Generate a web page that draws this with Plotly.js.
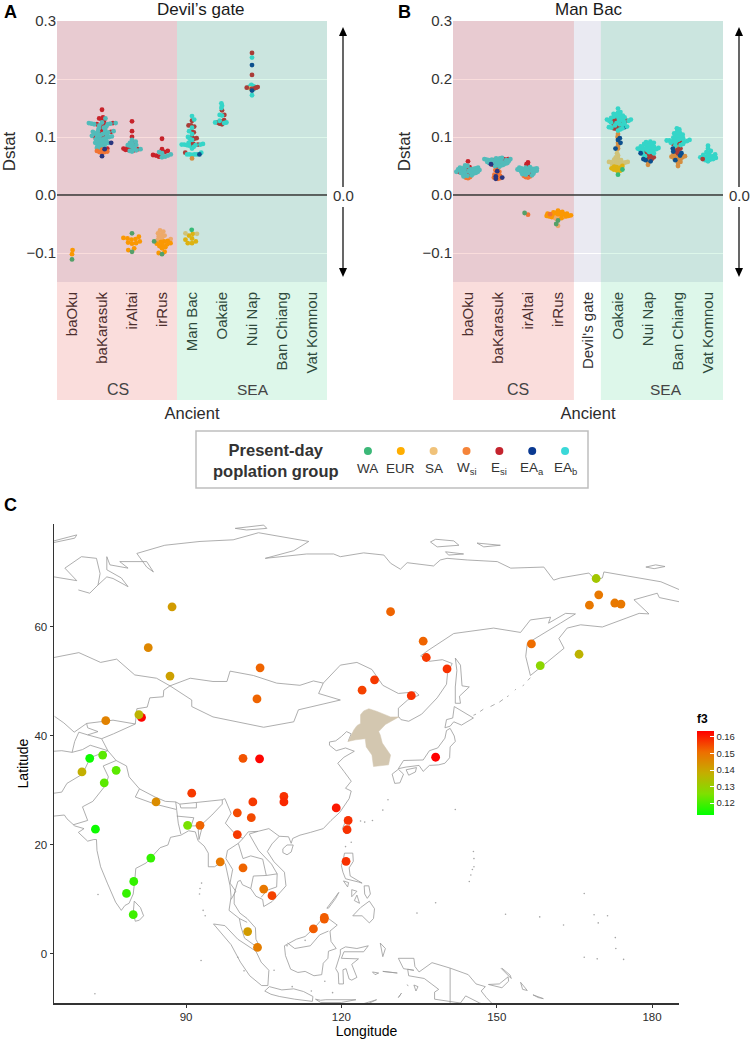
<!DOCTYPE html>
<html><head><meta charset="utf-8">
<script src="https://cdn.plot.ly/plotly-3.0.1.min.js"></script>
<style>html,body{margin:0;padding:0;background:#fff}</style></head>
<body><div id="chart" style="width:752px;height:1040px"></div>
<script>
// ---------- Panel tick labels ----------
const catsA = ["baOku","baKarasuk","irAltai","irRus","Man Bac","Oakaie","Nui Nap","Ban Chiang","Vat Komnou"];
const catsB = ["baOku","baKarasuk","irAltai","irRus","Devil's gate","Oakaie","Nui Nap","Ban Chiang","Vat Komnou"];
const groupKeys = ["WA","EUR","SA","Ws","Es","Ea","Eb"];
const groupLabels = ["WA","EUR","SA","W<sub>si</sub>","E<sub>si</sub>","EA<sub>a</sub>","EA<sub>b</sub>"];
const groupColors = ["#3CB878","#FFAE00","#F0C27A","#F58439","#C4242E","#0A3A92","#3AD8D8"];
// widest spread of each swarm, in pixels either side of its category
const spreadA = [1,14,10,9,11,7,7,0,0];
const spreadB = [12,14,13,13,0,13,12,12,8];

// ---------- Panel A: Dstat values read per ancient group, per present-day group ----------
const A_baOku = [["EUR",[-.095,-.102]],["WA",[-.111]]];
const A_baKarasuk = [
 ["Es",[.147,.134,.132,.13,.128,.124,.122,.122,.12,.114,.11,.109,.108,.102,.101,.1,.08]],
 ["Eb",[.132,.125,.124,.124,.123,.123,.122,.122,.12,.118,.116,.115,.112,.11,.11,.109,.108,.107,.106,.105,.105,.104,.103,.102,.101,.1,.1,.099,.098,.097,.096,.095,.094,.093,.092,.091,.09,.09,.089,.088,.087,.086,.085,.083,.081,.079]],
 ["Ws",[.078,.076,.075,.074,.074,.073]],
 ["Ea",[.09,.079,.067]]];
const A_irAltai = [
 ["Es",[.127,.11,.1,.091,.085,.082,.08,.08,.079,.079,.078,.078,.077]],
 ["Eb",[.095,.092,.09,.088,.086,.086,.085,.083,.081,.079,.077,.076,.075]],
 ["EUR",[-.072,-.074,-.075,-.076,-.077,-.08,-.082,-.083,-.084,-.092,-.095]],
 ["WA",[-.066,-.098]]];
const A_irRus = [
 ["Es",[.097,.079,.076,.074,.069,.068,.066]],
 ["Eb",[.074,.072,.07,.068,.066,.065]],
 ["SA",[-.061,-.063,-.066,-.068,-.07,-.072,-.074,-.076,-.078]],
 ["EUR",[-.079,-.08,-.081,-.083,-.084,-.085,-.086,-.088,-.09,-.092,-.098,-.1]],
 ["WA",[-.08,-.102]]];
const A_ManBac = [
 ["Es",[.128,.12,.12,.118,.11,.108,.1,.098,.097,.09,.088,.087,.085,.073]],
 ["Eb",[.136,.13,.116,.11,.105,.1,.097,.095,.09,.088,.087,.087,.087,.086,.086,.085,.083,.08,.073,.07,.07,.07,.07,.069]],
 ["Ea",[.07]],["Ws",[.063]],
 ["EUR",[-.083,-.083,-.08,-.077,-.075,-.07,-.067]],["SA",[-.067,-.066]],["WA",[-.06]]];
const A_Oakaie = [
 ["Es",[.146,.138,.129,.127,.125,.123,.122]],
 ["Eb",[.158,.154,.15,.138,.137,.128,.125,.125,.124]]];
const A_NuiNap = [
 ["Eb",[.237,.19,.188,.187,.187,.186,.185,.185,.182,.172]],
 ["SA",[.184]],
 ["Es",[.245,.207,.186,.185,.185,.184,.183]],
 ["Ea",[.224,.18]]];
const A_BanChiang = [];
const A_VatKomnou = [];

// ---------- Panel B ----------
const B_baOku = [
 ["Ws",[.03,.029,.031]],
 ["Es",[.058,.048,.045,.042,.04,.038,.036]],
 ["Eb",[.047,.047,.046,.046,.045,.045,.044,.044,.043,.043,.042,.042,.041,.041,.04,.04,.039,.039,.038,.038,.037,.036,.035,.034,.033,.032,.05,.051]]];
const B_baKarasuk = [
 ["Ws",[.046,.043,.04,.037,.035,.033,.032,.03,.029,.028]],
 ["Es",[.062,.062,.061,.06,.06,.058,.056,.055,.052,.05]],
 ["Eb",[.064,.063,.063,.062,.062,.061,.061,.06,.06,.059,.059,.058,.058,.057,.057,.056,.056,.055,.055,.054,.054,.053,.052,.051,.05,.049]],
 ["Ea",[.053,.041,.032,.03,.028]]];
const B_irAltai = [
 ["Ws",[.034,.033,.032,.031,.03]],
 ["Es",[.056,.053,.05,.046,.044,.04,.036]],
 ["Eb",[.048,.047,.047,.046,.046,.045,.045,.044,.044,.043,.043,.042,.042,.041,.041,.04,.04,.039,.038,.037,.036,.035,.034]],
 ["Ws",[-.034]],["WA",[-.031]]];
const B_irRus = [
 ["SA",[-.035,-.036,-.037,-.038,-.039,-.04,-.041,-.053]],
 ["EUR",[-.027,-.029,-.03,-.03,-.031,-.032,-.032,-.033,-.033,-.034,-.034,-.035,-.036,-.036,-.037,-.037,-.038,-.04]],
 ["Ws",[-.033]],["WA",[-.044,-.05]]];
const B_Oakaie = [
 ["SA",[.072,.068,.065,.063,.061,.06,.059,.058,.057,.057,.056,.056,.055,.055,.054,.054,.052,.05]],
 ["EUR",[.05,.049,.048,.047,.046,.045,.044,.043,.042,.04]],["WA",[.044,.035]],
 ["Ws",[.105,.1,.09,.085,.08]],
 ["Es",[.133,.13,.129,.128,.127,.125,.123,.12,.118,.116,.115,.114]],
 ["Ea",[.117,.098,.095,.09,.08]],
 ["Eb",[.149,.143,.142,.14,.139,.138,.137,.136,.135,.134,.134,.133,.132,.131,.13,.13,.129,.128,.128,.127,.126,.125,.124,.123,.122,.121,.12,.118,.117,.116,.115,.113,.111]]];
const B_NuiNap = [
 ["Ws",[.062,.058,.052]],
 ["Es",[.075,.072,.07,.068,.066,.065,.064,.062]],
 ["Eb",[.092,.091,.09,.089,.088,.087,.086,.085,.084,.083,.082,.082,.081,.081,.08,.08,.079,.079,.078,.078,.077,.076,.075,.074,.072,.07,.067]],
 ["Ea",[.072,.062,.06,.058]]];
const B_BanChiang = [
 ["Ws",[.085,.08,.07,.068,.067,.066,.065,.065,.064,.062,.06,.057,.055,.05]],
 ["Es",[.092,.09,.088,.08,.078,.075,.072]],
 ["Eb",[.115,.113,.11,.108,.106,.105,.104,.103,.102,.1,.099,.098,.097,.096,.095,.095,.094,.094,.093,.093,.092,.091,.09,.088,.086,.085]],
 ["Ea",[.08,.075,.072,.068,.06]]];
const B_VatKomnou = [
 ["Eb",[.085,.08,.076,.074,.072,.07,.069,.068,.067,.066,.065,.065,.064,.063,.062,.061,.06,.058]],
 ["Es",[.062]]];

// ---------- Panel C: sampling sites ----------
const siteLon = [87.3,82.7,86.9,104.3,103.7,124,126.4,74.5,81.4,80.9,71.4,73.9,69.9,76.5,101,104.2,74.2,91.1,84.2,99.9,102.9,102.6,108.9,108.9,119,121.3,121.1,120.9,72.5,90.3,92.7,99.9,83.2,96.6,101,79.9,78.5,79.8,105,106.6,101.9,103.8,114.6,116.7,116.7,129.5,135.8,136.4,140.4,133.5,138.2,156.7,158.4,165.9,169.2,169.7,167.9,172.8,174];
const siteLat = [63.7,56.2,51,52.5,46.8,48.4,50.3,42.8,43.4,43.9,35.9,36.5,33.4,33.7,35.9,35.8,31.4,29.5,27.9,25.9,27.9,25,28.9,27.9,26.8,24.5,22.8,17,22.9,23.6,23.6,21.9,17.6,16.9,15.8,13.3,11.1,7.2,11.9,10.7,4.1,1.2,4.6,6.7,6.4,62.8,57.4,54.4,52.3,47.4,36.1,56.9,52.9,55,68.9,65.9,64,64.4,64.2];
const siteF3 = [.142,.146,.141,.152,.152,.156,.157,.147,.163,.137,.114,.122,.138,.122,.154,.163,.122,.157,.145,.155,.157,.155,.158,.159,.161,.158,.158,.158,.114,.125,.152,.157,.118,.149,.152,.118,.118,.119,.149,.156,.142,.148,.153,.153,.153,.152,.152,.157,.158,.158,.164,.151,.128,.137,.132,.149,.149,.149,.149];

// ---------- Panel C: map outlines as lon,lat pairs ----------
const koreaArea = [125.3,45,126.9,44.5,129.5,43.5,131.1,43.5,128.5,42.1,127.2,40.8,127.5,40.2,127.9,38.7,129.5,36.5,129.1,34.7,126.2,34.4,125.9,36.5,124.8,38,124.6,39.5,122.8,39.3,121.3,39,122.4,41.1,123,41.9,123.7,42.3,123.7,43.9,124.3,44.6,125.3,45];
const coastChinaIndia = [121.3,39,121.9,40.4,121,40.8,120,39.9,118.9,39.1,117.7,38.9,117.7,38.3,118.9,37.5,119,37.3,120.8,37.8,122.5,37.2,120.5,36.1,119.3,35,120.5,33.5,121.9,31.7,120.8,30.4,121.9,29.9,121.5,28.5,119.7,26,118,24.5,116.5,23,114,22.3,112,21.8,110.6,21.2,110.3,20.3,109.8,21.5,108,21.6,106.6,20.2,105.7,18.8,107,16.9,109,15,109.3,12.5,107.2,10.4,106.6,9.6,105,8.7,104.8,10,103.5,10.6,102.5,12,100.9,12.7,100.5,13.5,100,13.3,99.3,11,99.3,9.2,100.4,7.5,101.8,6.5,103.4,4.8,103.5,2.7,104.2,1.4,103.5,1.4,101.3,2.9,100.6,5,100.3,6.5,98.3,8,98.7,10.5,98.5,12.5,97.6,16.5,97.1,17,95.5,16,94.3,16,94.3,18.5,93.5,19.8,92.3,20.8,91.8,22.4,90.5,22.6,89,21.8,87,21.4,86.5,20,85,19.5,82.3,16.7,80.3,15.7,80.1,13.5,79.8,11,79,9.3,78.2,8.9,77.5,8,76.4,9.5,74.8,13,73.5,16,72.8,19,72.7,21,72.2,21,71,20.7,69.2,22.3,70.3,23,68.5,23.5,67,24.8,66.5,25.5,64.5,25.3];
const coastRussiaPacific = [131.1,43.5,131.5,43,133,42.7,135.5,44,138.5,47,140.3,49.5,140.5,51.5,141.4,53.3,139.5,54,138.5,53.9,137,53.7,135.3,54.7,136.9,55.8,141.7,58.8,149.4,59.8,154.6,59,156.5,61.3,160.4,61.8,160,60.7,163.3,62.5,165.2,62.4,162.3,60.7,158.5,58.5,155.9,57,155.6,54.6,156.5,51.1,159.8,53.6,163,56.1,162,57.9,163.6,59.8,166.2,60.4,170.4,60,177.5,62.5,179.4,62.4,176.5,65,181,66.2,181.4,65.4,185.4,64.6];
const coastArcticWest = [64.5,69.2,68.9,68.5,66.6,70.8,69.8,72.9,72.7,72.6,73.4,69.8,73,67.7,71.4,66.2,69.2,66.8];
const coastArcticGydan = [73,67.7,74.7,69.2,75.9,68.9,78.8,67.4,77.5,69,74.7,70.5,74.7,72.9,75.3,71.4,78.8,70.8,77.2,72,82.4,72,83.7,70.1,82.4,71,80.5,73.5,85.9,75,92.7,75.7,99.1,76,104,77.3,113.7,75.7,110.8,74,105.3,72.6,113.3,73.4,118.5,73.4,119.8,72.9,124.3,73.6,128.2,73.2,129.5,71.7,131.4,70.6,132.7,71.8,137.8,71.2,139.1,72.3,140.4,72.6,144.3,72.3,150.1,72,152.7,70.8,159.1,71,161,68.6,162.3,69,167.8,69.9,169.1,68.6,170.4,69,170.7,70.1,181.7,68.3,185.4,66.8];
const islandNovaya = [64.5,75.8,68.9,76.9,68.5,76.3,64.5,75.5];
const islandSeverny = [99.5,78.1,105,78.7,105.6,78.1,101.7,77.8,99.5,78.1];
const islandKotelny = [137.2,75.6,138.2,76.1,141.7,75.8,142.7,75,138.5,74.7,137.2,75.6];
const islandLiakhov = [140.1,73.8,143.6,73.4,140.7,73.2,140.1,73.8];
const islandNewSib = [146.2,75.4,150.7,75,147.5,74.7,146.2,75.4];
const islandWrangel = [178.8,71,180.7,71.4,182.5,71.1,180.4,70.7,178.8,71];
const islandSakhalin = [142,54.3,143,53,143.3,49.2,144.7,49,142.8,47.3,143,46,142,46,142,49,142.3,52,142,54.3];
const islandHokkaido = [140,41.5,141,41.8,141.7,42.6,143.2,42,145.5,43.3,144.3,44,141.8,45.4,141.5,43.3,140.3,43,140,41.5];
const islandHonshu = [141,41.4,141.8,40,142,39,141,38,140.9,36,140,35,138.8,34.7,137,34.6,135.8,33.5,135,34.6,132.5,34.3,131,34,132,35.5,135.8,35.6,137,37.3,138.6,37.8,140,39.6,140.3,41,141,41.4];
const islandKyushu = [131,33.9,132,33,131.3,31.4,130.3,31.3,129.8,33,131,33.9];
const islandShikoku = [132.5,33.8,134.5,34.2,134.3,33.4,133,32.8,132.5,33.8];
const islandSriLanka = [80,9.7,81.2,8.5,81.8,7,81,6.2,80.2,6,79.8,7.5,80,9.7];
const islandHainan = [108.7,19.3,109.5,20,110.7,20,110.3,18.7,109.5,18.2,108.7,18.6,108.7,19.3];
const islandTaiwan = [121.5,25.2,122,24.8,120.9,22,120.2,23,120.9,24.5,121.5,25.2];
const islandLuzon = [120.6,18.5,122.2,18.5,122.3,17,121.5,15.8,121.7,14.3,124,13,123.3,13.2,120.8,13.8,120.3,15,120,16.2,120.4,17.5,120.6,18.5];
const islandSamar = [125.3,12.5,125.6,11,125,10.2,124.5,11,124.4,12.5,125.3,12.5];
const islandMindanao = [123.7,8.5,125.4,9.7,126.4,8.3,126.2,6.5,125.4,5.7,124,7,122.2,7,123.7,8.5];
const islandPanay = [122,11.8,123,11.5,122,10.5,122,11.8];
const islandNegros = [123,10.8,123.5,9.3,122.5,9.8,123,10.8];
const islandPalawan = [117.2,8.4,119.5,11.3,118.9,10.2,117.5,8.4,117.2,8.4];
const islandMindoro = [120.4,13.4,121.4,13.1,121.2,12.3,120.4,13.4];
const islandBorneo = [109,1.5,111.3,2.7,113,3.2,115,5,116.8,7,117.6,6.4,119.2,5.3,117.8,4.2,118,2.3,119,1,117.5,.5,117.4,-.8,116.5,-1.7,116.2,-3.8,114.7,-4,113,-3.2,111.6,-3.4,110.2,-2.8,109.2,-.3,109,1.5];
const islandSumatra = [95.3,5.5,97.5,5.2,100,2.7,103.5,.5,104.5,-1.5,106,-3,105.8,-5.8,104.6,-5.8,102.3,-4,100.5,-1.5,98.7,1.7,97,3.5,95.3,5.5];
const islandJava = [105.2,-6.8,106.1,-6,108.5,-6.6,110.8,-6.4,112.7,-6.9,114.5,-7.8,114.4,-8.7,111,-8.3,108,-7.8,106.4,-7.4,105.2,-6.8];
const islandSunda = [115,-8.3,116,-8.5,117,-8.4,119,-8.4,122.8,-8.4,120,-8.9,116,-8.9,115,-8.3];
const islandSulawesi = [119.8,.8,120.8,1.3,123,1,125.2,1.5,124.3,.4,120.5,.4,120,-.8,121.4,-.9,123.3,-.9,122,-1.9,122.5,-3.2,123,-4.3,122,-4.8,121.5,-4.6,120.9,-2.7,120.3,-2.9,120.4,-5.5,119.5,-5.5,119.4,-3.5,118.9,-2.7,119.8,0,119.8,.8];
const islandHalmahera = [127.5,2,128.5,1,128,-.5,127.7,.8,127.5,2];
const islandSeram = [128,-3.2,130.8,-3.5,129,-3.4,128,-3.2];
const islandBuru = [126,-3.3,127.2,-3.5,126.5,-3.8,126,-3.3];
const islandTimor = [124,-9.2,126.8,-8.4,125,-9.2];
const islandTanimbar = [131.6,-7.2,131,-8,131.3,-7.6,131.6,-7.2];
const islandAru = [134,-5.7,134.8,-6,134.4,-6.8,134,-5.7];
const islandKai = [132.7,-5.6,132.9,-5.9];
const islandGuinea = [131,-.8,134,-.8,134.2,-2.3,135,-3.3,137.5,-1.6,141,-2.6,144.5,-3.8,146,-5.5,147.8,-6,147,-6.8,148,-8,150,-10,146.7,-9,144,-7.7,143,-9,138,-8.3,138,-7,138.8,-6.5,136,-4.5,133,-4,132.8,-2.8,134,-3,132,-2.7,131,-.8];
const islandNewBritain = [148.4,-5.6,150.5,-5.5,152.2,-4.2,152.3,-5,151,-6.2,148.4,-5.6];
const islandNewIreland = [150.8,-2.6,152.8,-4.5,152.6,-3.9,151,-2.6];
const islandBougainville = [154.6,-5.2,155.9,-6.7,155,-6.5,154.6,-5.2];
const islandSolomon = [157,-7.5,159,-8.2,158,-8,157,-7.5];
const borderKazRussia = [64.5,54.4,69.3,55.3,73.5,53.5,76.6,54.1,80.1,51.2,84.3,50.6,86.9,49.2];
const borderRussiaMongolia = [86.9,49.2,90.8,50.6,95.2,50,97.9,50,98.5,51.9,103,51.1,107.5,49.7,112,49.3,114.6,50.1,116.5,49.7];
const borderMongoliaChina = [86.9,49.2,91.1,46.6,91.1,45.4,95.2,43.5,105,41.6,110.8,42.6,111.7,44.8,119.8,46.6,115.6,47.8,116.5,49.7];
const borderAmur = [116.5,49.7,119.8,53,123,53.5,125.9,52.2,128,49.3,131,47.8,134.3,48.1,135,47.5,132.8,46.6,131,45.1,131,43.5,131.1,43.5];
const borderKazChina = [80.2,42.2,80.5,45,82.5,45.3,83,47,85.6,47.2,85.7,48.4,86.9,49.2];
const borderKyrgyzChina = [73.7,39.5,76,40.4,80.2,42.2];
const borderKazSouth = [64.6,43.6,66.4,42.4,68.4,40.7,70.8,42.3,75.9,42.9,80.2,42.2];
const borderKyrgyzSouth = [70.8,42.3,71,41.5,73,40.8,71,40.2,73.7,39.5];
const borderTajik = [68,37,68.5,39,69.3,40.7,71,40.2];
const borderAfghan = [64.5,37.2,66,37.3,68,37,70,37.5,71.5,38.3,74.9,37.3,73.7,39.5];
const borderPakAfghan = [64.5,29.5,66,29.7,67,31.3,70,33,71.5,36,74.9,37.3];
const borderIndiaPak = [68.2,23.7,71,24.5,70,27,72,28,74.5,31,75,32.5,74,34.5,76.5,35.5,74.9,37.3];
const borderHimalaya = [76.5,35.5,78.5,34.5,79,32.5,81,30.3,84,28.8,86,28,88,27.9,88.8,27.5,92,27.8,97,28.3,97.5,28.5,98.7,25.8,97.6,24,99.5,22,101,21.2,102,22.4,103.9,22.5,106,23,108,21.6];
const borderNepal = [81,30.3,80.2,28.8,84,27.5,88.2,26.5,88,27.9];
const borderBhutan = [88.8,27.5,89,26.8,92,26.8,92,27.8];
const borderBangla = [88.2,26.4,88.5,24,89,22];
const borderBangla2 = [92.5,21,92.3,23.5,91,23.5,91.5,25,88.2,25.3];
const borderIndiaMyanmar = [92.5,21,93.3,24,95,25.5,97,27.5,97,28.3];
const borderThaiMyanmar = [101,21.2,100.1,20.3,98,19,97.7,17.5,99,15.5,98.5,13,99.6,11.5,98.7,10];
const borderLaosThai = [100.1,20.3,101,17.5,102.5,18,104.8,17.4,105.5,14.4,103,14.3,102.5,12];
const borderLaosVietnam = [103.9,22.5,102.2,22,104,19,106.5,16.5,107.6,14.7,105.5,14.4];
const borderCambodiaVietnam = [107.6,14.7,107.5,12.3,105.7,11.7,104.5,10.4];
const borderMalayThai = [100.3,6.5,101.8,5.8];
const borderBorneo = [109.6,2,111,1,114,1.5,115.8,3.5,117.5,4.2];
const borderGuinea = [141,-2.6,141,-10];
const kurilDashes = [[145.5,43.8,146,44],[146.8,44.5,147.4,44.9],[148.8,45.4,149.6,45.8],[150.5,46.2,151.2,46.7],[152,47.2,152.3,47.4],[153.5,48.4,153.7,48.6],[155,49.2,155.3,49.4],[156,50.2,156.5,50.7]];
const dotLon = [145.5,145.6,145.6,145.3,145,144.7,128,129,93,92.7,92.6,93.3,93.7,73,72.4,151.7,158.3,162.9,166.9,168.8,171.4,169.6,172.9,173,174.5,166.9,169.4,138.2,134.6,142,126,124.5,123.7,121.9,120.8,100,92.9,109.5,113,114.2,118.3,116.8,101.2,107,110.5];
const dotLat = [18.8,17.5,16,15.5,14.5,13.3,26.4,28.3,13,12,11,8,7,10.9,-7.3,7.3,6.8,5.3,11.1,7.2,7,5.7,3,1,-1,-.6,-.9,9.4,7.5,26.5,24.5,24.2,24.4,20.5,19.7,-.6,-1.2,1.5,2.5,-6.8,-7.1,-5,-3.1,-3,-6];

// ---------- f3 colour ramp and axis ticks ----------
const f3Ramp = [[0,"#00FF00"],[.25,"#7EE000"],[.5,"#C4AE00"],[.75,"#EE6E00"],[1,"#FF0000"]];
const f3Ticks = [.12,.13,.14,.15,.16];
const dstatTicks = [-.1,0,.1,.2,.3];
const lonTicks = [90,120,150,180];
const latTicks = [0,20,40,60];

// ---------- page geometry helpers ----------
const W=752,H=1040, px=x=>x/W, py=y=>1-y/H;
const colorOf = Object.fromEntries(groupKeys.map((k,i)=>[k,groupColors[i]]));
const FONT = '"Liberation Sans", Arial, sans-serif';
const dark='#2b2b2b';

function swarm(vals, d){ // beeswarm spread in pixels, value scale 580 px per unit
  const order = vals.map((v,i)=>i).sort((a,b)=>vals[a]-vals[b]);
  const placed=[], out=new Array(vals.length);
  let side=1;
  order.forEach(i=>{
    const y=vals[i]*580, near=placed.filter(p=>Math.abs(p.y-y)<d);
    let cands=[0];
    near.forEach(p=>{const s=Math.sqrt(d*d-(p.y-y)*(p.y-y)); cands.push(p.x+s,p.x-s);});
    cands=cands.filter(c=>near.every(p=>(p.x-c)*(p.x-c)+(p.y-y)*(p.y-y)>=d*d-1e-6));
    cands.sort((a,b)=>(Math.abs(a)-Math.abs(b))||((b-a)*side));
    side=-side;
    out[i]=cands[0]; placed.push({x:cands[0],y});
  });
  return out;
}
function fitSwarm(vals,limit,dMax){ // largest spacing whose spread stays inside the limit
  for(let d=dMax;d>1.2;d-=.1){
    const o=swarm(vals,d);
    if(Math.max(...o.map(Math.abs))<=limit) return o;
  }
  return swarm(vals,1.2);
}
function swarmTrace(list, cat, xa, ya, limit, dMax){
  const keys=[],vals=[];
  list.forEach(([k,v])=>v.forEach(n=>{keys.push(k);vals.push(n);}));
  const pos=[],neg=[];
  vals.forEach((v,i)=>(v>=0?pos:neg).push(i));
  const dx=new Array(vals.length);
  [pos,neg].forEach(ix=>{ if(!ix.length)return; const o=fitSwarm(ix.map(i=>vals[i]),limit,dMax); ix.forEach((i,j)=>dx[i]=o[j]); });
  return {type:'scatter',mode:'markers',xaxis:xa,yaxis:ya,hoverinfo:'skip',showlegend:false,
    x:dx.map(o=>cat+o/30),y:vals,marker:{size:4.8,color:keys.map(k=>colorOf[k]),line:{width:0}},cliponaxis:false};
}
const traces=[];
[A_baOku,A_baKarasuk,A_irAltai,A_irRus,A_ManBac,A_Oakaie,A_NuiNap,A_BanChiang,A_VatKomnou].forEach((l,i)=>{if(l.length)traces.push(swarmTrace(l,i,'x','y',spreadA[i],4.2));});
[B_baOku,B_baKarasuk,B_irAltai,B_irRus,[],B_Oakaie,B_NuiNap,B_BanChiang,B_VatKomnou].forEach((l,i)=>{if(l.length)traces.push(swarmTrace(l,i,'x2','y2',spreadB[i],3.8));});

// map
const mapLines=[coastChinaIndia,coastRussiaPacific,coastArcticWest,coastArcticGydan,islandNovaya,islandSeverny,islandKotelny,islandLiakhov,islandNewSib,islandWrangel,islandSakhalin,islandHokkaido,islandHonshu,islandKyushu,islandShikoku,islandSriLanka,islandHainan,islandTaiwan,islandLuzon,islandSamar,islandMindanao,islandPanay,islandNegros,islandPalawan,islandMindoro,islandBorneo,islandSumatra,islandJava,islandSunda,islandSulawesi,islandHalmahera,islandSeram,islandBuru,islandTimor,islandTanimbar,islandAru,islandKai,islandGuinea,islandNewBritain,islandNewIreland,islandBougainville,islandSolomon,borderKazRussia,borderRussiaMongolia,borderMongoliaChina,borderAmur,borderKazChina,borderKyrgyzChina,borderKazSouth,borderKyrgyzSouth,borderTajik,borderAfghan,borderPakAfghan,borderIndiaPak,borderHimalaya,borderNepal,borderBhutan,borderBangla,borderBangla2,borderIndiaMyanmar,borderThaiMyanmar,borderLaosThai,borderLaosVietnam,borderCambodiaVietnam,borderMalayThai,borderBorneo,borderGuinea,...kurilDashes];
const lx=[],ly=[];
mapLines.forEach(a=>{for(let i=0;i<a.length;i+=2){lx.push(a[i]);ly.push(a[i+1]);}lx.push(null);ly.push(null);});
traces.push({type:'scatter',mode:'lines',xaxis:'x3',yaxis:'y3',x:lx,y:ly,hoverinfo:'skip',showlegend:false,connectgaps:false,line:{color:'#999999',width:.8}});
traces.push({type:'scatter',mode:'markers',xaxis:'x3',yaxis:'y3',x:dotLon,y:dotLat,hoverinfo:'skip',showlegend:false,marker:{size:1.6,color:'#a5a5a5'}});
traces.push({type:'scatter',mode:'lines',xaxis:'x3',yaxis:'y3',x:koreaArea.filter((v,i)=>i%2==0),y:koreaArea.filter((v,i)=>i%2==1),fill:'toself',fillcolor:'#D3C7B0',hoverinfo:'skip',showlegend:false,line:{color:'#D3C7B0',width:.5}});
traces.push({type:'scatter',mode:'markers',xaxis:'x3',yaxis:'y3',x:siteLon,y:siteLat,hoverinfo:'skip',showlegend:false,
  marker:{size:8.8,color:siteF3,colorscale:f3Ramp,cmin:.1128,cmax:.1636,line:{width:0},
   colorbar:{x:px(697),xanchor:'left',y:py(773),yanchor:'middle',lenmode:'pixels',len:84,thicknessmode:'pixels',thickness:17,xpad:0,ypad:0,outlinewidth:0,
    tickvals:f3Ticks,ticks:'inside',ticklen:4,tickcolor:'#ffffff',tickwidth:1,tickformat:'.2f',tickprefix:'\u2009',tickfont:{family:FONT,size:9.5,color:dark}}}});
// legend keys
traces.push({type:'scatter',mode:'markers',xaxis:'x4',yaxis:'y4',x:groupKeys.map((k,i)=>i),y:groupKeys.map(()=>0),hoverinfo:'skip',showlegend:false,marker:{size:8,color:groupColors,line:{width:0}}});

function topAxis(domain,cats,anchor,titleText){
  return {domain,range:[-.5,8.5],anchor,tickmode:'array',tickvals:cats.map((c,i)=>i),ticktext:cats,tickangle:-90,ticks:'',showgrid:false,zeroline:false,showline:false,
    tickfont:{family:FONT,size:15,color:'#333'},ticklabelstandoff:6,title:{text:titleText,standoff:34,font:{family:FONT,size:16.5,color:dark}}};
}
function dstatAxis(anchor){
  return {domain:[py(282),py(21)],range:[-.15,.3],anchor,tickvals:dstatTicks,tickformat:'.1f',ticks:'',showgrid:true,gridcolor:'#ffffff',gridwidth:1,zeroline:false,showline:false,
    tickfont:{family:FONT,size:15,color:'#333'},title:{text:'Dstat',standoff:7,font:{family:FONT,size:17,color:dark}}};
}
const textAnn=(x,y,text,size,color,extra)=>Object.assign({xref:'paper',yref:'paper',x:px(x),y:py(y),text,showarrow:false,xanchor:'center',yanchor:'middle',font:{family:FONT,size,color}},extra||{});
const arrowLine=(x,y1,y2)=>({type:'line',xref:'paper',yref:'paper',x0:px(x),x1:px(x),y0:py(y1),y1:py(y2),line:{color:'#000',width:1.2}});
const arrowHead=(x,tip,dir)=>({type:'path',xref:'paper',yref:'paper',path:`M ${px(x)} ${py(tip)} L ${px(x-4)} ${py(tip+dir*9)} L ${px(x+4)} ${py(tip+dir*9)} Z`,fillcolor:'#000',line:{width:0}});

const layout={width:W,height:H,margin:{l:0,r:0,t:0,b:0},paper_bgcolor:'#fff',plot_bgcolor:'rgba(0,0,0,0)',showlegend:false,font:{family:FONT},
 xaxis:topAxis([px(57),px(327)],catsA,'y','Ancient'),
 yaxis:dstatAxis('x'),
 xaxis2:topAxis([px(453),px(723)],catsB,'y2','Ancient'),
 yaxis2:dstatAxis('x2'),
 xaxis3:{domain:[px(54),px(679)],range:[64.5,185.2],anchor:'y3',tickvals:lonTicks,ticks:'outside',ticklen:3,tickcolor:'#333',showgrid:false,zeroline:false,showline:true,linecolor:'#333',linewidth:1.5,
   tickfont:{family:FONT,size:11.5,color:dark},title:{text:'Longitude',standoff:4,font:{family:FONT,size:14,color:'#000'}}},
 yaxis3:{domain:[py(1003),py(524)],range:[-9,78.9],anchor:'x3',tickvals:latTicks,ticks:'outside',ticklen:3,tickcolor:'#333',showgrid:false,zeroline:false,showline:true,linecolor:'#333',linewidth:1.5,
   tickfont:{family:FONT,size:11.5,color:dark},title:{text:'Latitude',standoff:2,font:{family:FONT,size:14,color:'#000'}}},
 xaxis4:{domain:[px(351.5),px(581.5)],range:[-.5,6.5],anchor:'y4',visible:false,fixedrange:true},
 yaxis4:{domain:[py(461),py(441)],range:[-1,1],anchor:'x4',visible:false,fixedrange:true},
 shapes:[
  {type:'rect',layer:'below',xref:'x',yref:'y',x0:-.5,x1:8.5,y0:-.15,y1:.3,fillcolor:'#EAEAF2',line:{width:0}},
  {type:'rect',layer:'below',xref:'x2',yref:'y2',x0:-.5,x1:8.5,y0:-.15,y1:.3,fillcolor:'#EAEAF2',line:{width:0}},
  {type:'rect',layer:'above',xref:'x',yref:'paper',x0:-.5,x1:3.5,y0:py(400),y1:py(21),fillcolor:'rgba(221,28,22,.15)',line:{width:0}},
  {type:'rect',layer:'above',xref:'x',yref:'paper',x0:3.5,x1:8.5,y0:py(400),y1:py(21),fillcolor:'rgba(28,200,115,.15)',line:{width:0}},
  {type:'rect',layer:'above',xref:'x2',yref:'paper',x0:-.5,x1:3.53,y0:py(400),y1:py(21),fillcolor:'rgba(221,28,22,.15)',line:{width:0}},
  {type:'rect',layer:'above',xref:'x2',yref:'paper',x0:4.43,x1:8.5,y0:py(400),y1:py(21),fillcolor:'rgba(28,200,115,.15)',line:{width:0}},
  {type:'line',layer:'above',xref:'x',yref:'y',x0:-.5,x1:8.5,y0:0,y1:0,line:{color:'#333',width:1.5}},
  {type:'line',layer:'above',xref:'x2',yref:'y2',x0:-.5,x1:8.5,y0:0,y1:0,line:{color:'#333',width:1.5}},
  {type:'rect',xref:'paper',yref:'paper',x0:px(196),x1:px(588),y0:py(488),y1:py(431),line:{color:'#BEBEBE',width:1.5},fillcolor:'rgba(0,0,0,0)'},
  arrowLine(343,187,34),arrowLine(343,207,270),arrowLine(739,187,34),arrowLine(739,207,270),
  arrowHead(343,27,1),arrowHead(343,277,-1),arrowHead(739,27,1),arrowHead(739,277,-1)
 ],
 annotations:[
  textAnn(10,12,'<b>A</b>',18,'#000'),textAnn(404,12,'<b>B</b>',18,'#000'),textAnn(10,505,'<b>C</b>',18,'#000'),
  textAnn(201,10,'Devil’s gate',17,'#1a1a1a'),textAnn(589,10,'Man Bac',17,'#1a1a1a'),
  textAnn(118,389,'CS',16,'#444'),textAnn(253,389,'SEA',15.5,'#444'),
  textAnn(518,389,'CS',16,'#444'),textAnn(666,389,'SEA',15.5,'#444'),
  textAnn(343,195,'0.0',15,'#333'),textAnn(739,195,'0.0',15,'#333'),
  textAnn(702,719,'<b>f3</b>',12,'#000'),
  textAnn(276,460,'<b>Present-day<br>poplation group</b>',16.5,'#333'),
  ...groupLabels.map((t,i)=>({xref:'x4',yref:'paper',x:i,y:py(469),text:t,showarrow:false,xanchor:'center',yanchor:'middle',font:{family:FONT,size:13.5,color:'#333'}}))
 ]
};
Plotly.newPlot('chart',traces,layout,{staticPlot:true,displayModeBar:false});
</script></body></html>
